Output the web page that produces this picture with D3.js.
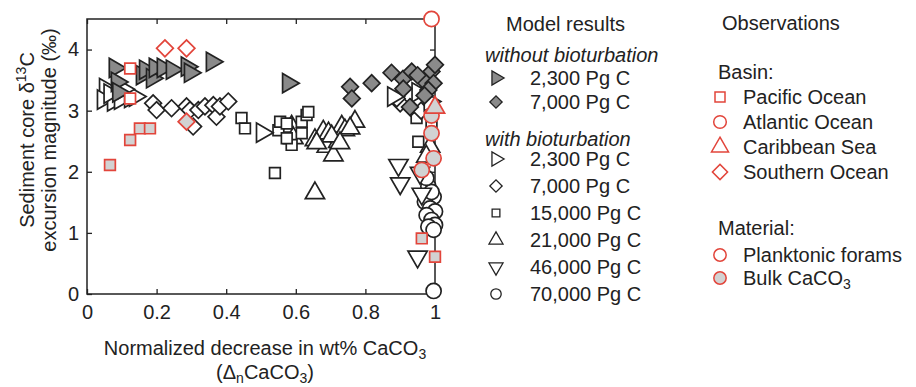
<!DOCTYPE html>
<html>
<head>
<meta charset="utf-8">
<script src="https://cdn.jsdelivr.net/npm/d3@7"></script>
<style>
  body { margin: 0; background: #fff; }
  svg text { font-family: "Liberation Sans", Arial, Helvetica, sans-serif; fill: #222; }
</style>
</head>
<body>
<div id="chart"></div>
<script>
var xTicks = [0, 0.2, 0.4, 0.6, 0.8, 1];
var yTicks = [0, 1, 2, 3, 4];

// model results, without bioturbation  [x, y]
var noBio2300 = [[0.08, 3.70], [0.086, 3.47], [0.09, 3.30], [0.158, 3.58], [0.167, 3.67], [0.187, 3.53],
    [0.195, 3.70], [0.218, 3.70], [0.244, 3.67], [0.287, 3.72], [0.296, 3.62], [0.359, 3.80], [0.578, 3.45]];
var noBio7000 = [[0.756, 3.39], [0.761, 3.20], [0.818, 3.45], [0.875, 3.62], [0.908, 3.52], [0.933, 3.64],
    [0.909, 3.36], [0.928, 3.06], [0.966, 3.50], [0.99, 3.64], [0.996, 3.45], [0.981, 3.34], [1.0, 3.75],
    [0.97, 3.25], [0.95, 3.58]];

// model results, with bioturbation
var bio2300 = [[0.052, 3.37], [0.046, 3.18], [0.075, 3.15], [0.095, 3.18], [0.124, 3.21], [0.138, 3.23],
    [0.065, 3.28], [0.105, 3.35], [0.503, 2.64], [0.88, 3.23], [0.95, 3.30], [0.985, 3.15]];
var bio7000 = [[0.19, 3.12], [0.2, 3.01], [0.243, 3.04], [0.286, 3.07], [0.296, 3.01], [0.305, 2.74],
    [0.32, 3.01], [0.339, 3.07], [0.363, 3.09], [0.372, 2.90], [0.382, 3.07], [0.406, 3.15],
    [0.9, 3.12], [0.93, 3.05], [0.96, 3.0], [0.89, 3.2]];
var bio15000 = [[0.444, 2.88], [0.454, 2.71], [0.54, 1.98], [0.55, 2.68], [0.555, 2.82], [0.574, 2.79],
    [0.588, 2.44], [0.617, 2.82], [0.631, 2.93], [0.636, 2.98], [0.617, 2.63], [0.574, 2.55],
    [0.947, 2.88], [0.952, 2.49], [0.99, 2.75]];
var bio21000 = [[0.588, 2.74], [0.593, 2.55], [0.655, 2.52], [0.679, 2.66], [0.694, 2.63], [0.689, 2.41],
    [0.708, 2.27], [0.722, 2.49], [0.732, 2.74], [0.741, 2.68], [0.77, 2.82], [0.756, 2.71], [0.703, 2.58],
    [0.655, 1.65], [0.66, 2.47], [0.727, 2.47], [0.986, 2.41], [0.975, 2.25]];
var bio46000 = [[0.895, 2.11], [0.9, 1.81], [0.957, 1.98], [0.962, 1.64], [0.95, 0.61]];
var bio70000 = [[0.981, 1.76], [0.996, 1.59], [0.971, 1.51], [0.986, 1.40], [1.0, 1.35], [0.976, 1.29],
    [0.99, 1.21], [1.0, 1.13], [0.981, 1.10], [0.996, 1.05], [0.99, 1.67], [0.975, 1.9], [0.996, 0.05]];

// observations
var pacificForams = [[0.124, 3.69], [0.124, 3.20]];
var pacificBulk = [[0.066, 2.11], [0.124, 2.52], [0.152, 2.71], [0.181, 2.71], [0.962, 0.91], [1.0, 0.61]];
var atlanticForams = [[0.99, 4.5]];
var atlanticBulk = [[0.99, 2.92], [0.99, 2.63], [0.996, 2.22], [0.962, 2.03]];
var caribbeanBulk = [[1.0, 3.05]];
var southernForams = [[0.224, 4.02], [0.286, 4.02]];
var southernBulk = [[0.286, 2.82]];

var modelLabels = ["2,300 Pg C", "7,000 Pg C", "2,300 Pg C", "7,000 Pg C", "15,000 Pg C",
    "21,000 Pg C", "46,000 Pg C", "70,000 Pg C"];
var basinLabels = ["Pacific Ocean", "Atlantic Ocean", "Caribbean Sea", "Southern Ocean"];
var materialLabels = ["Planktonic forams", "Bulk CaCO"];

var width = 916;
var height = 387;
var margin = { left: 87, right: 481, top: 19, bottom: 93 };
var red = "#e2453b";
var dark = "#222";
var modelGrey = "#8a8a8a";
var bulkGrey = "#d2d2d2";

var svg = d3.select("#chart")
    .append("svg")
    .attr("width", width)
    .attr("height", height);

var x = d3.scaleLinear().domain([0, 1]).range([margin.left, width - margin.right]);
var y = d3.scaleLinear().domain([0, 4.5]).range([height - margin.bottom, margin.top]);

// axes, ticks pointing inward like the original
var tk = 5;
svg.append("g")
    .attr("transform", "translate(0," + y(0) + ")")
    .call(d3.axisBottom(x).tickValues(xTicks).tickSizeInner(-tk).tickSizeOuter(0).tickPadding(11)
        .tickFormat(function (d) { return d === 0 || d === 1 ? d : d3.format(".1f")(d); }));
svg.append("g")
    .attr("transform", "translate(0," + y(4.5) + ")")
    .call(d3.axisTop(x).tickValues(xTicks).tickSizeInner(-tk).tickSizeOuter(0).tickFormat(""));
svg.append("g")
    .attr("transform", "translate(" + x(0) + ",0)")
    .call(d3.axisLeft(y).tickValues(yTicks).tickSizeInner(-tk).tickSizeOuter(0).tickPadding(8)
        .tickFormat(d3.format("d")));
svg.append("g")
    .attr("transform", "translate(" + x(1) + ",0)")
    .call(d3.axisRight(y).tickValues(yTicks).tickSizeInner(-tk).tickSizeOuter(0).tickFormat(""));

svg.selectAll(".domain").remove();
svg.selectAll(".tick line").attr("stroke", dark).attr("stroke-width", 1.3);
svg.selectAll(".tick text").attr("font-size", 20).attr("fill", dark)
    .attr("font-family", "Liberation Sans, Arial, sans-serif");

svg.append("rect")
    .attr("x", x(0))
    .attr("y", y(4.5))
    .attr("width", x(1) - x(0))
    .attr("height", y(0) - y(4.5))
    .attr("fill", "none")
    .attr("stroke", dark)
    .attr("stroke-width", 1.5);

// symbols
function shape(kind, size) {
    var type = d3.symbolTriangle, rot = 0;
    if (kind === "right") { rot = 90; }
    if (kind === "down") { rot = 180; }
    if (kind === "diamond") { type = d3.symbolSquare; rot = 45; }
    if (kind === "square") { type = d3.symbolSquare; }
    if (kind === "circle") { type = d3.symbolCircle; }
    return { path: d3.symbol().type(type).size(size)(), rot: rot };
}

var sizes = { right: 160, up: 160, down: 160, diamond: 140, square: 115, circle: 180 };

function plotSeries(data, kind, fill, stroke) {
    var s = shape(kind, sizes[kind]);
    svg.append("g").selectAll("path")
        .data(data)
        .enter()
        .append("path")
        .attr("d", s.path)
        .attr("transform", function (d) {
            return "translate(" + x(d[0]) + "," + y(d[1]) + ") rotate(" + s.rot + ")";
        })
        .attr("fill", fill)
        .attr("stroke", stroke)
        .attr("stroke-width", 1.7);
}

plotSeries(bio70000, "circle", "#fff", dark);
plotSeries(bio46000, "down", "#fff", dark);
plotSeries(bio21000, "up", "#fff", dark);
plotSeries(bio15000, "square", "#fff", dark);
plotSeries(bio7000, "diamond", "#fff", dark);
plotSeries(bio2300, "right", "#fff", dark);
plotSeries(noBio7000, "diamond", modelGrey, dark);
plotSeries(noBio2300, "right", modelGrey, dark);

plotSeries(pacificForams, "square", "#fff", red);
plotSeries(pacificBulk, "square", bulkGrey, red);
plotSeries(atlanticForams, "circle", "#fff", red);
plotSeries(atlanticBulk, "circle", bulkGrey, red);
plotSeries(caribbeanBulk, "up", bulkGrey, red);
plotSeries(southernForams, "diamond", "#fff", red);
plotSeries(southernBulk, "diamond", bulkGrey, red);

// axis titles
var xt = svg.append("text")
    .attr("x", 265)
    .attr("y", 355)
    .attr("text-anchor", "middle")
    .attr("font-size", 20);
xt.append("tspan").text("Normalized decrease in wt% CaCO");
xt.append("tspan").attr("font-size", 14).attr("dy", 4).text("3");

var xt2 = svg.append("text")
    .attr("x", 265)
    .attr("y", 379)
    .attr("text-anchor", "middle")
    .attr("font-size", 20);
xt2.append("tspan").text("(\u0394");
xt2.append("tspan").attr("font-size", 14).attr("dy", 4).text("n");
xt2.append("tspan").attr("dy", -4).text("CaCO");
xt2.append("tspan").attr("font-size", 14).attr("dy", 4).text("3");
xt2.append("tspan").attr("dy", -4).text(")");

var yt = svg.append("text")
    .attr("transform", "translate(34,140) rotate(-90)")
    .attr("text-anchor", "middle")
    .attr("font-size", 20);
yt.append("tspan").text("Sediment core \u03B4");
yt.append("tspan").attr("font-size", 14).attr("dy", -8).text("13");
yt.append("tspan").attr("dy", 8).text("C");

svg.append("text")
    .attr("transform", "translate(56,140) rotate(-90)")
    .attr("text-anchor", "middle")
    .attr("font-size", 20)
    .text("excursion magnitude (\u2030)");

// legend: model results
var lg = svg.append("g").attr("font-size", 20);
lg.append("text").attr("x", 506).attr("y", 31).text("Model results");
lg.append("text").attr("x", 485).attr("y", 62).attr("font-style", "italic").text("without bioturbation");
lg.append("text").attr("x", 485).attr("y", 146).attr("font-style", "italic").text("with bioturbation");

var modelKinds = ["right", "diamond", "right", "diamond", "square", "up", "down", "circle"];
var modelFills = [modelGrey, modelGrey, "#fff", "#fff", "#fff", "#fff", "#fff", "#fff"];
var modelRows = [85, 109, 166, 193, 220, 247, 274, 301];
var legendSize = { right: 85, diamond: 75, square: 60, up: 85, down: 85, circle: 85 };

modelLabels.forEach(function (label, i) {
    var s = shape(modelKinds[i], legendSize[modelKinds[i]]);
    lg.append("path")
        .attr("d", s.path)
        .attr("transform", "translate(496," + (modelRows[i] - 7) + ") rotate(" + s.rot + ")")
        .attr("fill", modelFills[i])
        .attr("stroke", dark)
        .attr("stroke-width", 1.3);
    lg.append("text").attr("x", 530).attr("y", modelRows[i]).text(label);
});

// legend: observations
lg.append("text").attr("x", 722).attr("y", 30).text("Observations");
lg.append("text").attr("x", 718).attr("y", 79).text("Basin:");
var basinKinds = ["square", "circle", "up", "diamond"];
var basinRows = [104, 129, 154, 179];
basinLabels.forEach(function (label, i) {
    var s = shape(basinKinds[i], legendSize[basinKinds[i]] + 40);
    lg.append("path")
        .attr("d", s.path)
        .attr("transform", "translate(720," + (basinRows[i] - 7) + ") rotate(" + s.rot + ")")
        .attr("fill", "#fff")
        .attr("stroke", red)
        .attr("stroke-width", 1.5);
    lg.append("text").attr("x", 743).attr("y", basinRows[i]).text(label);
});

lg.append("text").attr("x", 718).attr("y", 235).text("Material:");
var materialRows = [262, 285];
var materialFills = ["#fff", bulkGrey];
materialLabels.forEach(function (label, i) {
    var s = shape("circle", 120);
    lg.append("path")
        .attr("d", s.path)
        .attr("transform", "translate(720," + (materialRows[i] - 7) + ")")
        .attr("fill", materialFills[i])
        .attr("stroke", red)
        .attr("stroke-width", 1.5);
    var t = lg.append("text").attr("x", 743).attr("y", materialRows[i]).text(label);
    if (i === 1) {
        t.append("tspan").attr("font-size", 14).attr("dy", 4).text("3");
    }
});
</script>
</body>
</html>
